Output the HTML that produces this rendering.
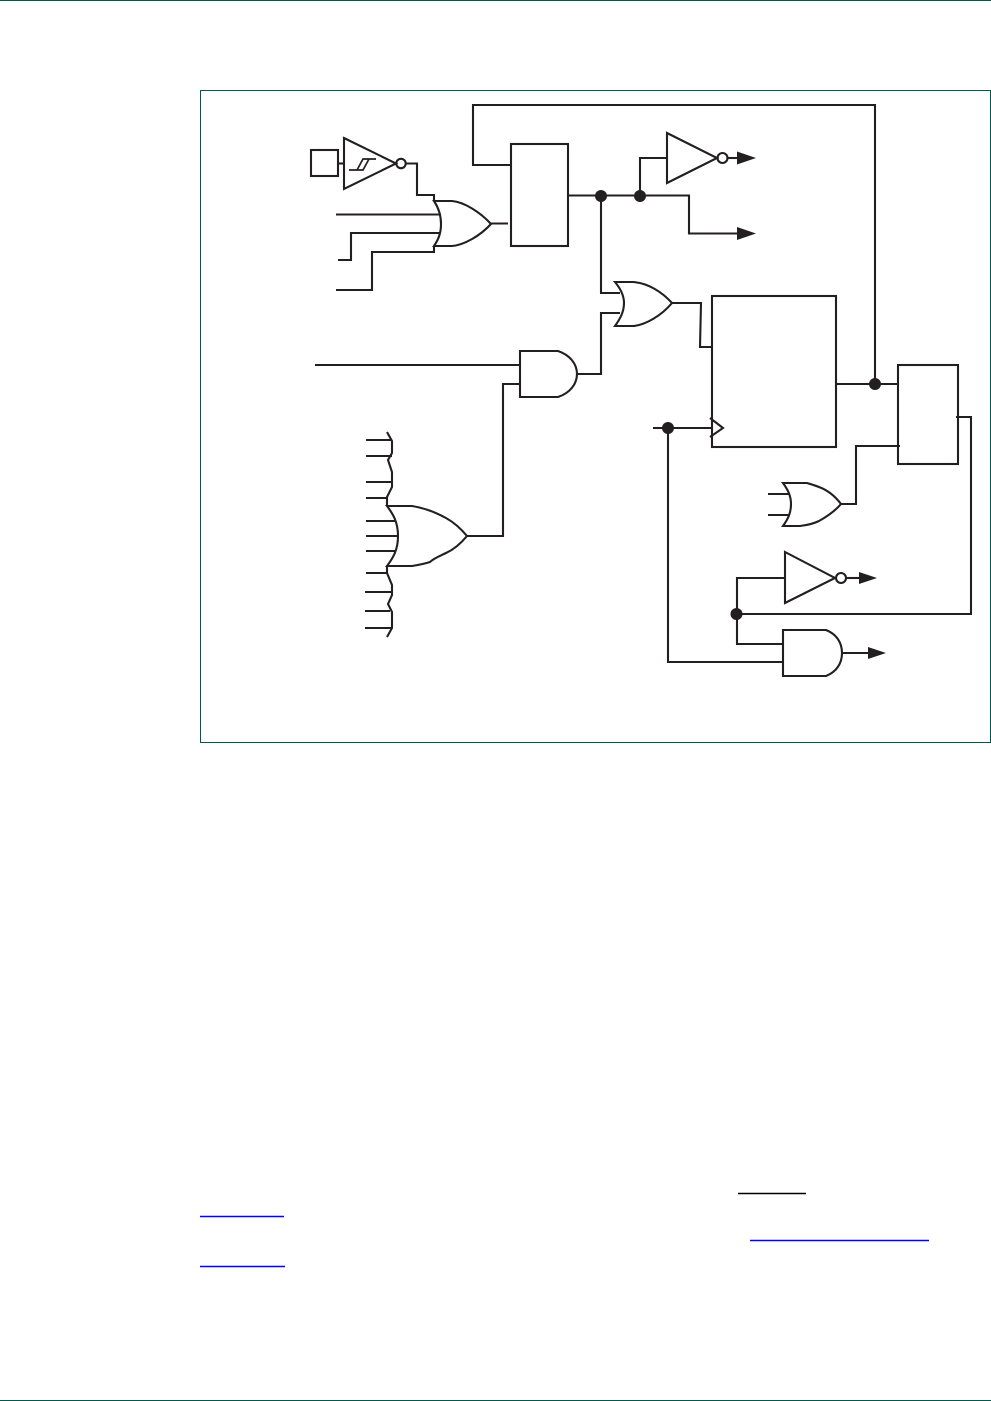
<!DOCTYPE html>
<html>
<head>
<meta charset="utf-8">
<style>
html,body{margin:0;padding:0;background:#fff;}
svg{display:block;}
</style>
</head>
<body>
<svg width="991" height="1401" viewBox="0 0 991 1401" xmlns="http://www.w3.org/2000/svg">
<rect x="0" y="0" width="991" height="1401" fill="#fff"/>
<line x1="0" y1="0.5" x2="991" y2="0.5" stroke="#00594f" stroke-width="1"/>
<line x1="0" y1="1400.5" x2="991" y2="1400.5" stroke="#00594f" stroke-width="1"/>
<rect x="200.5" y="90.5" width="790" height="652" fill="none" stroke="#00594f" stroke-width="1"/>
<g fill="none" stroke="#231f20" stroke-width="2.1" stroke-linejoin="miter">
<!-- input pad and schmitt inverter -->
<rect x="311" y="150" width="27" height="26"/>
<line x1="338" y1="163.5" x2="344" y2="163.5"/>
<path d="M344 138L396 163.5L344 189Z"/>
<path d="M349 170H363L369 159M357 170L363 159H376" stroke-width="1.7"/>
<circle cx="401" cy="163.5" r="4.7"/>
<path d="M405.500 163.500H417V195H434V201"/>
<!-- OR 1 -->
<path d="M434 201C438 207 441 214 441 224C441 234 438 240 434 246H452C464 245 480 236 491 224C480 212 464 202 452 201H434Z"/>
<path d="M336 214.500H441"/>
<path d="M338 260H351V233H440"/>
<path d="M336 290H372V252H434V246"/>
<path d="M491 223.500H508"/>
<!-- box 1 -->
<rect x="511" y="144" width="57" height="102"/>
<path d="M511 165H473V105H875V384"/>
<path d="M568 195.500H689V233.500H738"/>
<!-- top inverter -->
<path d="M640 196V158H667"/>
<path d="M667 133L717 158L667 183Z"/>
<circle cx="722.500" cy="158" r="5"/>
<line x1="727.500" y1="158" x2="738" y2="158"/>
<!-- OR 2 -->
<path d="M615 282C620 288 624 295 624 303C624 312 620 319 615 326H633C646 325 662 315 672 303C662 292 648 283 633 282H615Z"/>
<path d="M601 196V293H620"/>
<path d="M620 313H601V374H577"/>
<path d="M672 303H701L700 347H712"/>
<!-- big box -->
<rect x="712" y="296" width="124" height="151"/>
<path d="M710 418L723 428L710 437"/>
<path d="M653 428H712"/>
<path d="M668 428V662H783"/>
<path d="M836 384H898"/>
<!-- right box -->
<rect x="898" y="365" width="60" height="99"/>
<path d="M956 417H971V614H737"/>
<!-- AND 1 -->
<path d="M520 351H558C570 355 577 364 577 374C577 384 570 393 558 397H520Z"/>
<path d="M315 365H520"/>
<path d="M520 384H503V536H467"/>
<!-- big OR -->
<path d="M387 432L392 441V453L388 460L392 472V487L387 497V506"/>
<path d="M387 506H412C425 508 435 512 446 518C455 523 462 530 467 536C462 542 455 549 446 553C440 556 434 558 430 562C424 564 418 565 412 566H387C393 558 398 550 398 536C398 522 393 514 387 506Z"/>
<path d="M387 566V573L392 585V595L388 604L392 612V628L387 637"/>
<path d="M366 440H392M366 456H392M366 482H392M366 498H387M366 521H395M366 536H398M366 551H395M366 573H387M365 592H392M365 611H390M365 628H392"/>
<!-- OR 3 -->
<path d="M783 483C788 490 791 496 791 504C791 513 788 519 783 526H800C808 525 815 523 819 521C828 516 835 511 841 504C835 496 827 490 819 487C814 485 810 484 807 483H783Z"/>
<path d="M768 494H789M768 515H789"/>
<path d="M841 504H856V446H900"/>
<!-- lower inverter -->
<path d="M785 552L835 578L785 603Z"/>
<circle cx="841" cy="578" r="5"/>
<line x1="846" y1="578" x2="859" y2="578"/>
<path d="M785 578H737V644H783"/>
<!-- AND 2 -->
<path d="M783 630H826C836 634 842 642 842 653C842 664 836 672 826 676H783Z"/>
<line x1="842" y1="653" x2="868" y2="653"/>
</g>
<g fill="#231f20" stroke="none">
<circle cx="601" cy="196" r="6"/>
<circle cx="640" cy="196" r="6"/>
<circle cx="875" cy="384" r="6"/>
<circle cx="668" cy="428" r="6"/>
<circle cx="736.500" cy="614" r="6"/>
<path d="M737 151.500L756 158L737 164.500Z"/>
<path d="M737 227L756 233.500L737 240Z"/>
<path d="M859 572L877 578L859 584Z"/>
<path d="M868 647L886 653L868 659Z"/>
</g>
<g stroke-width="1.400">
<line x1="738" y1="1193.500" x2="806" y2="1193.500" stroke="#000"/>
<line x1="200" y1="1216.500" x2="284" y2="1216.500" stroke="#0000ff"/>
<line x1="750" y1="1240.500" x2="929" y2="1240.500" stroke="#0000ff"/>
<line x1="200" y1="1266.500" x2="285" y2="1266.500" stroke="#0000ff"/>
</g>
</svg>
</body>
</html>
